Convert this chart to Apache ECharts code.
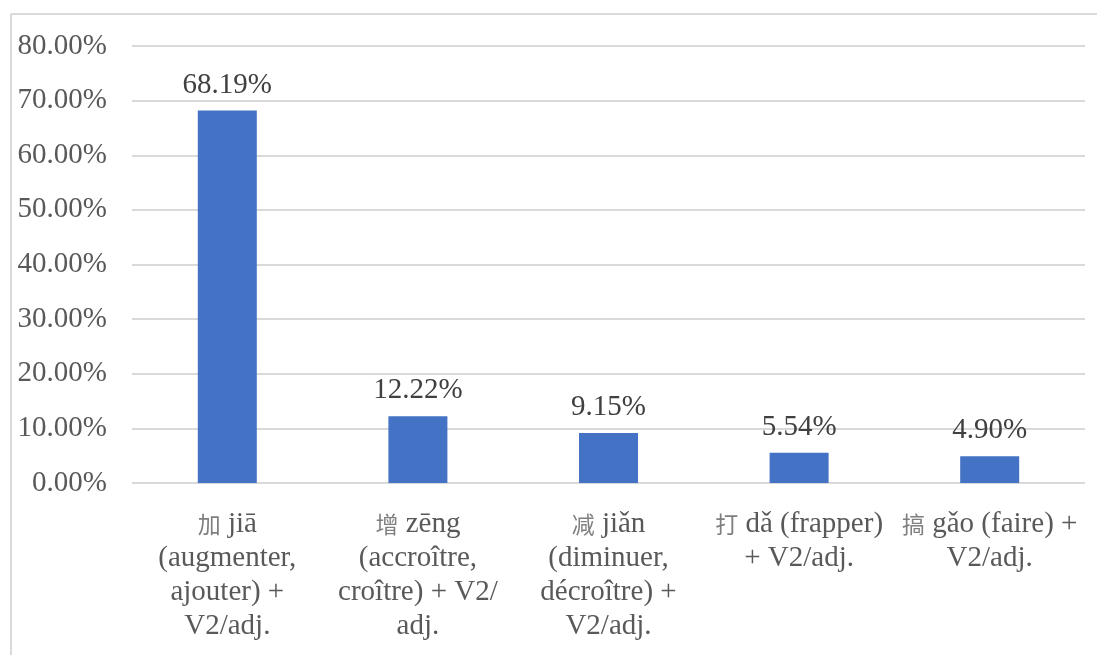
<!DOCTYPE html>
<html>
<head>
<meta charset="utf-8">
<script src="https://cdn.jsdelivr.net/npm/echarts@6/dist/echarts.min.js"></script>
<style>
html,body{margin:0;padding:0;background:#fff;}
#chart{width:1097px;height:655px;}
</style>
</head>
<body>
<div id="chart"></div>
<script>
var categories = [
  '加 jiā\n(augmenter,\najouter) +\nV2/adj.',
  '增 zēng\n(accroître,\ncroître) + V2/\nadj.',
  '减 jiǎn\n(diminuer,\ndécroître) +\nV2/adj.',
  '打 dǎ (frapper)\n+ V2/adj.',
  '搞 gǎo (faire) +\nV2/adj.'
];
var values = [68.19, 12.22, 9.15, 5.54, 4.90];
var yMin = 0, yMax = 80, yInterval = 10;

var FONT = "'Liberation Serif', 'Times New Roman', serif";
var chart = echarts.init(document.getElementById('chart'), null, {renderer: 'canvas'});
chart.setOption({
  animation: false,
  backgroundColor: '#ffffff',
  graphic: [
    {type: 'line', shape: {x1: 11, y1: 14, x2: 1097, y2: 14}, style: {stroke: '#d9d9d9', lineWidth: 2}},
    {type: 'line', shape: {x1: 11, y1: 14, x2: 11, y2: 655}, style: {stroke: '#d9d9d9', lineWidth: 2}}
  ],
  grid: {left: 132, right: 12, top: 46, bottom: 172, containLabel: false},
  xAxis: {
    type: 'category',
    data: categories,
    axisLine: {show: false},
    axisTick: {show: false},
    axisLabel: {
      interval: 0,
      margin: 24,
      color: '#595959',
      fontFamily: FONT,
      fontSize: 29,
      lineHeight: 34,
      formatter: function (v) {
        var first = v.charAt(0);
        return '{c|' + first + '}' + v.slice(1);
      },
      rich: {
        c: {fontFamily: "'Noto Sans CJK SC', sans-serif", fontSize: 23, color: '#7f7f7f', lineHeight: 34}
      }
    }
  },
  yAxis: {
    type: 'value',
    min: yMin, max: yMax, interval: yInterval,
    axisLine: {show: false},
    axisTick: {show: false},
    splitLine: {lineStyle: {color: '#d9d9d9', width: 2}},
    axisLabel: {
      margin: 25,
      color: '#595959',
      fontFamily: FONT,
      fontSize: 29,
      formatter: function (v) { return v.toFixed(2) + '%'; }
    }
  },
  series: [{
    type: 'bar',
    data: values,
    barWidth: 59,
    itemStyle: {color: '#4472C4'},
    label: {
      show: true,
      position: 'top',
      distance: 11,
      color: '#404040',
      fontFamily: FONT,
      fontSize: 29,
      formatter: function (p) { return p.value.toFixed(2) + '%'; }
    }
  }]
});
</script>
</body>
</html>
